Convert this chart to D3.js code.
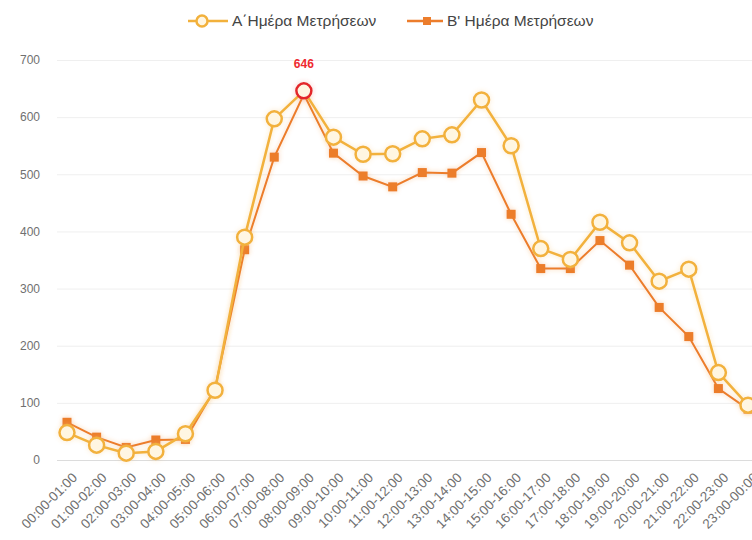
<!DOCTYPE html>
<html>
  <head>
    <meta charset="utf-8">
    <title></title>
  </head>
  <style>
  body{
      font-family: "Liberation Sans", Arial, sans-serif;
      background-color: #fff;
      margin:0;
      padding:0
    }
    #grid line { stroke: #efefef; stroke-width: 1 }
    #grid path { display: none }
    .axis path { display: none }
    .axis .tick line { display: none }
    .axis text { fill: #707070; font-size: 12px }
    .xaxis text { fill: #707070; font-size: 13.5px }
  </style>
  <script src="https://d3js.org/d3.v7.min.js"></script>
  <body>
    <script>
    // hours of the day
    const hours = ["00:00-01:00","01:00-02:00","02:00-03:00","03:00-04:00","04:00-05:00","05:00-06:00",
                   "06:00-07:00","07:00-08:00","08:00-09:00","09:00-10:00","10:00-11:00","11:00-12:00",
                   "12:00-13:00","13:00-14:00","14:00-15:00","15:00-16:00","16:00-17:00","17:00-18:00",
                   "18:00-19:00","19:00-20:00","20:00-21:00","21:00-22:00","22:00-23:00","23:00-00:00"]
    const dayA = [48, 26, 12, 15, 46, 122, 390, 597, 646, 565, 535, 536, 562, 569, 630, 550,
                  370, 351, 416, 380, 313, 334, 153, 96]
    const dayB = [66, 40, 22, 35, 36, 125, 368, 530, 640, 537, 497, 478, 503, 502, 538, 430,
                  335, 335, 384, 341, 267, 216, 125, 89]
    const seriesNames = ["Α΄Ημέρα Μετρήσεων", "Β' Ημέρα Μετρήσεων"]
    const yTicks = [0, 100, 200, 300, 400, 500, 600, 700]

    const colorA = "#f2b13c", fillA = "#fff6e2"
    const colorB = "#ec7d2c"

    var W = 752, H = 540
    var margin = { left: 57, right: 0, top: 60, bottom: 80 }

    var svg = d3.select("body").append("svg")
                .attr("width", W).attr("height", H)

    var defs = svg.append("defs")
    var glow = defs.append("filter").attr("id", "glow")
                   .attr("x", "-20%").attr("y", "-20%").attr("width", "140%").attr("height", "140%")
    glow.append("feGaussianBlur").attr("in", "SourceGraphic").attr("stdDeviation", 2.5).attr("result", "b")
    glow.append("feComponentTransfer").attr("in", "b").attr("result", "c")
        .append("feFuncA").attr("type", "linear").attr("slope", 0.35)
    var merge = glow.append("feMerge")
    merge.append("feMergeNode").attr("in", "c")
    merge.append("feMergeNode").attr("in", "SourceGraphic")

    // y scale
    var yScale = d3.scaleLinear().domain([0, 700]).range([460, 60])

    // x scale
    var xScale = d3.scalePoint().domain(hours).range([67, 748])

    // grid
    svg.append("g").attr("id", "grid")
       .attr("transform", "translate(" + margin.left + ",0)")
       .call(d3.axisLeft(yScale).tickValues(yTicks).tickSize(-(W - margin.left)).tickFormat(""))
    svg.select("#grid").selectAll(".tick").filter(function(d){ return d === 0 })
       .select("line").style("stroke", "#dcdcdc")

    // y axis labels
    svg.append("g").attr("class", "axis")
       .attr("transform", "translate(40,0)")
       .call(d3.axisLeft(yScale).tickValues(yTicks).tickSize(0).tickPadding(0))

    // x axis labels
    var xAxisG = svg.append("g").attr("class", "axis xaxis")
       .attr("transform", "translate(0,466)")
       .call(d3.axisBottom(xScale).tickSize(0))
    xAxisG.selectAll("text")
       .attr("text-anchor", "end")
       .attr("dy", "0.35em")
       .attr("transform", "translate(5,7) rotate(-45)")

    var line = d3.line()
       .x(function(d, i){ return xScale(hours[i]) })
       .y(function(d){ return yScale(d) })

    // series B
    var gB = svg.append("g").attr("filter", "url(#glow)")
    gB.append("path").attr("d", line(dayB))
      .attr("fill", "none").attr("stroke", colorB).attr("stroke-width", 2)
    gB.selectAll("rect").data(dayB).enter().append("rect")
      .attr("x", function(d, i){ return xScale(hours[i]) - 4.5 })
      .attr("y", function(d){ return yScale(d) - 4.5 })
      .attr("width", 9).attr("height", 9)
      .attr("fill", colorB)

    // series A
    var gA = svg.append("g").attr("filter", "url(#glow)")
    gA.append("path").attr("d", line(dayA))
      .attr("fill", "none").attr("stroke", colorA).attr("stroke-width", 2.5)
    var maxA = d3.max(dayA)
    gA.selectAll("circle").data(dayA).enter().append("circle")
      .attr("cx", function(d, i){ return xScale(hours[i]) })
      .attr("cy", function(d){ return yScale(d) })
      .attr("r", 7.5)
      .attr("fill", fillA)
      .attr("stroke", function(d){ return d === maxA ? "#e3262b" : colorA })
      .attr("stroke-width", 2.5)

    // peak label
    var iMax = dayA.indexOf(maxA)
    svg.append("text")
       .attr("x", xScale(hours[iMax]))
       .attr("y", yScale(maxA) - 23)
       .attr("text-anchor", "middle")
       .attr("font-size", "12px")
       .attr("font-weight", "bold")
       .attr("fill", "#ee2a2f")
       .text(maxA)

    // legend
    var legend = svg.append("g")
    var lgA = legend.append("g").attr("transform", "translate(188,21)")
    lgA.append("line").attr("x1", 0).attr("x2", 40).attr("stroke", colorA).attr("stroke-width", 2.5)
    lgA.append("circle").attr("cx", 14).attr("r", 5.5).attr("fill", fillA).attr("stroke", colorA).attr("stroke-width", 2.5)
    lgA.append("text").attr("x", 44).attr("dy", "0.35em").attr("font-size", "15.5px").attr("fill", "#444")
       .text(seriesNames[0])

    var lgB = legend.append("g").attr("transform", "translate(407,21)")
    lgB.append("line").attr("x1", 0).attr("x2", 36).attr("stroke", colorB).attr("stroke-width", 2.5)
    lgB.append("rect").attr("x", 16).attr("y", -4).attr("width", 8).attr("height", 8).attr("fill", colorB)
    lgB.append("text").attr("x", 40).attr("dy", "0.35em").attr("font-size", "15.5px").attr("fill", "#444")
       .text(seriesNames[1])
    </script>
  </body>
</html>
